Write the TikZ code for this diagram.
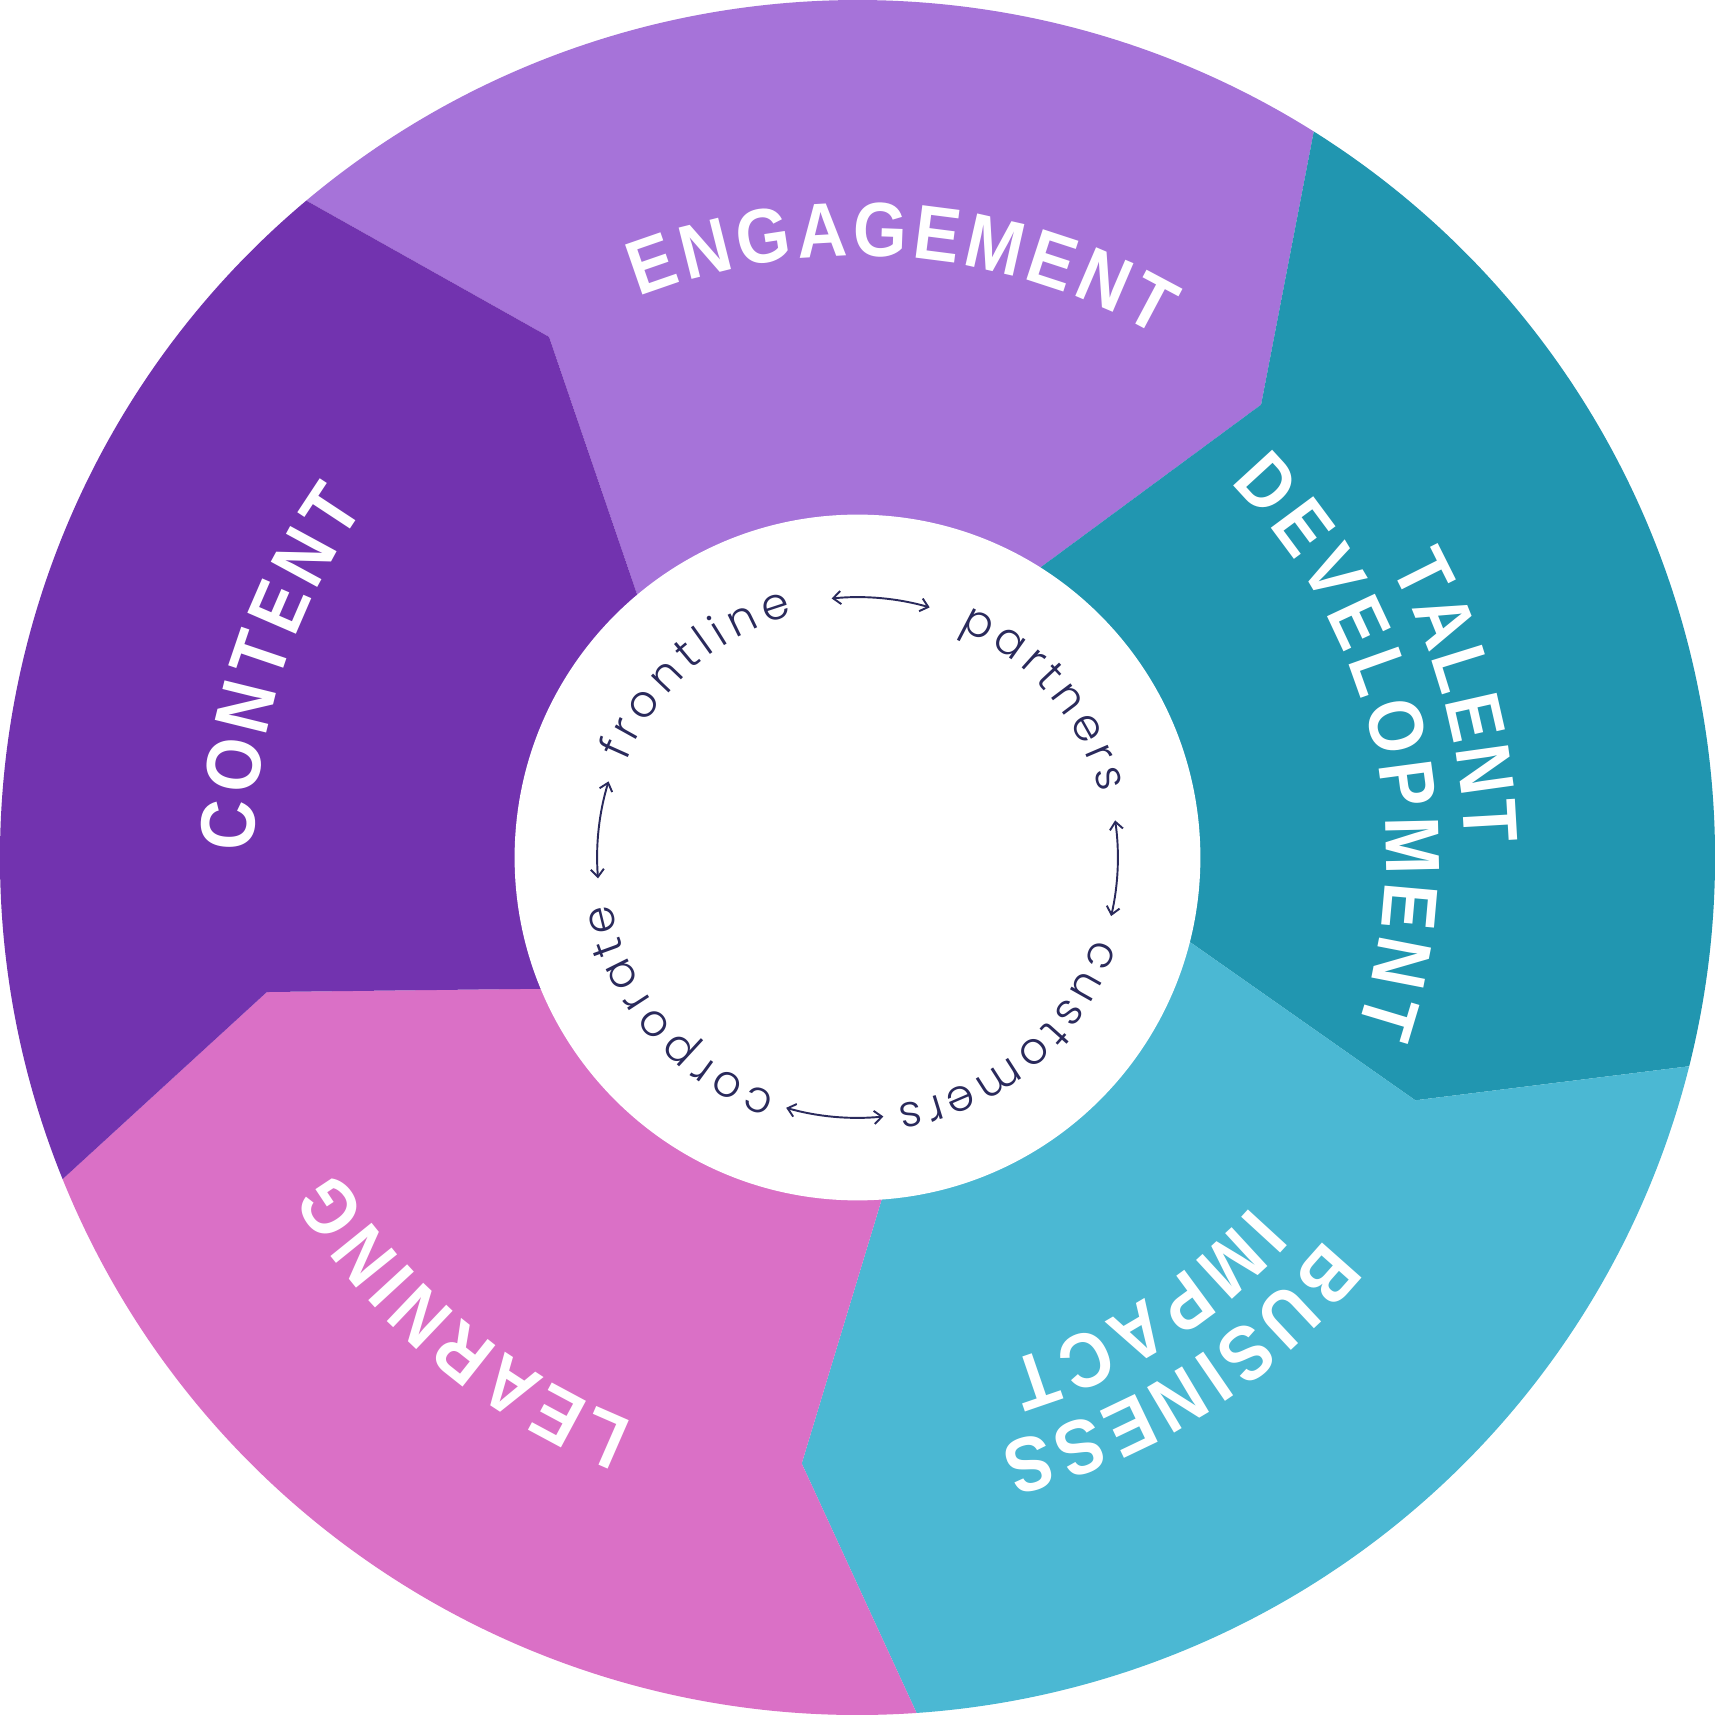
\documentclass[tikz,border=0pt]{standalone}
\usepackage{fontspec}
\usetikzlibrary{decorations.text,arrows.meta}
\newfontfamily\labelfont{Liberation Sans}[FakeStretch=0.9]
\IfFontExistsTF{Poppins Light}{\newfontfamily\innerfont{Poppins Light}}{%
  \IfFontExistsTF{Poppins}{\newfontfamily\innerfont{Poppins}}{\newfontfamily\innerfont{DejaVu Sans}}}
\definecolor{eng}{HTML}{A673D9}
\definecolor{tal}{HTML}{2196B0}
\definecolor{bus}{HTML}{4BB8D3}
\definecolor{lea}{HTML}{DA70C6}
\definecolor{con}{HTML}{7233AF}
\definecolor{ink}{HTML}{2A2A5C}
\newcommand{\labfmt}{\labelfont\bfseries\fontsize{20}{24}\selectfont\color{white}}
\newcommand{\innfmt}{\innerfont\fontsize{11.5}{14}\selectfont\color{ink}}
\newcommand{\ringtext}[5]{\path[decorate,decoration={text along path,text={|#4|#5},text align={fit to path}}] (#2:#1) arc[start angle=#2,end angle=#3,radius=#1];}
\tikzset{
  ringarrow/.style={draw=ink,line width=0.5pt,{Straight Barb[length=0.7mm,width=1.2mm]}-{Straight Barb[length=0.7mm,width=1.2mm]}}
}
\begin{document}
\begin{tikzpicture}
\useasboundingbox (-7.84,-7.84) rectangle (7.84,7.84);
\fill[white] (-7.84,-7.84) rectangle (7.84,7.84);
\def\R{7.84}
% boundary points: inner (I), kink (K)
\coordinate (I1) at (1.67,2.65);   \coordinate (K1) at (3.69,4.14);
\coordinate (I2) at (3.05,-0.78);  \coordinate (K2) at (5.10,-2.22);
\coordinate (I3) at (0.22,-3.13);  \coordinate (K3) at (-0.51,-5.54);
\coordinate (I4) at (-2.89,-1.20); \coordinate (K4) at (-5.40,-1.23);
\coordinate (I5) at (-2.01,2.39);  \coordinate (K5) at (-2.82,4.76);
% sectors
\fill[eng] (0,0) -- (I5) -- (K5) -- (130:\R) arc[start angle=130,end angle=57.85,radius=\R] -- (K1) -- (I1) -- cycle;
\fill[tal] (0,0) -- (I1) -- (K1) -- (57.85:\R) arc[start angle=57.85,end angle=-14.09,radius=\R] -- (K2) -- (I2) -- cycle;
\fill[bus] (0,0) -- (I2) -- (K2) -- (-14.09:\R) arc[start angle=-14.09,end angle=-86.05,radius=\R] -- (K3) -- (I3) -- cycle;
\fill[lea] (0,0) -- (I3) -- (K3) -- (-86.05:\R) arc[start angle=-86.05,end angle=-157.97,radius=\R] -- (K4) -- (I4) -- cycle;
\fill[con] (0,0) -- (I4) -- (K4) -- (-157.97:\R) arc[start angle=-157.97,end angle=-230,radius=\R] -- (K5) -- (I5) -- cycle;
% inner white disc
\fill[white] (0,0) circle (3.135);
% sector labels
\ringtext{5.50}{111.3}{60.0}{\labfmt}{ENGAGEMENT}
\ringtext{5.55}{28.6}{1.3}{\labfmt}{TALENT}
\ringtext{4.83}{45.2}{-19.0}{\labfmt}{DEVELOPMENT}
\ringtext{5.52}{-39.2}{-76.4}{\labfmt}{BUSINESS}
\ringtext{4.81}{-41.5}{-73.4}{\labfmt}{IMPACT}
\ringtext{5.55}{-111.6}{-149.0}{\labfmt}{LEARNING}
\ringtext{5.52}{179.4}{144.6}{\labfmt}{CONTENT}
% inner words
\ringtext{2.29}{157.5}{105.0}{\innfmt}{frontline}
\ringtext{2.29}{66.0}{14.9}{\innfmt}{partners}
\ringtext{2.29}{-18.9}{-80.9}{\innfmt}{customers}
\ringtext{2.29}{-109.1}{-169.4}{\innfmt}{corporate}
% arrows
\draw[ringarrow] (95.7:2.38) arc[start angle=95.7,end angle=73.9,radius=2.38];
\draw[ringarrow] (8.2:2.38) arc[start angle=8.2,end angle=-13.0,radius=2.38];
\draw[ringarrow] (-84.3:2.38) arc[start angle=-84.3,end angle=-105.9,radius=2.38];
\draw[ringarrow] (163.0:2.38) arc[start angle=163.0,end angle=184.6,radius=2.38];
\end{tikzpicture}
\end{document}
